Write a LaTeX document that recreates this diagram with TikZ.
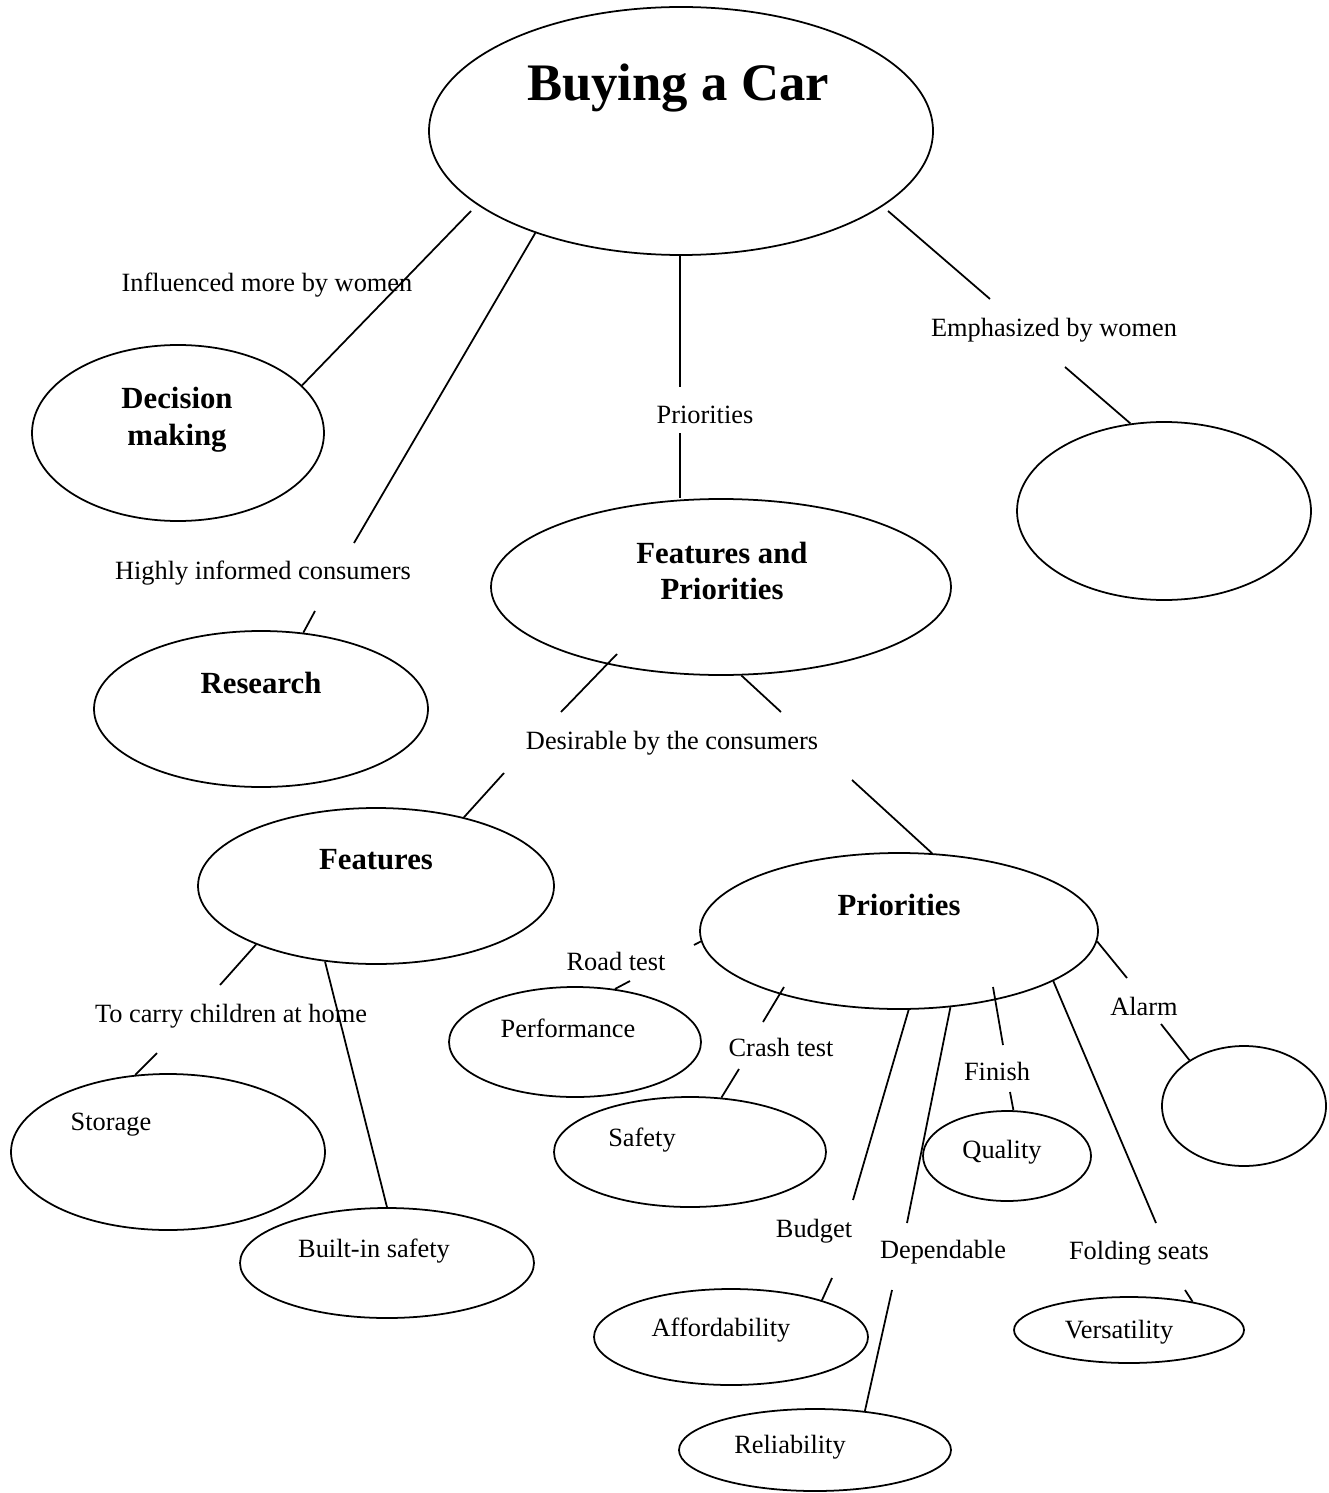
\documentclass[tikz,border=0pt]{standalone}
\usepackage{fontspec}
\setmainfont{Liberation Serif}
\usetikzlibrary{shapes.geometric}

\begin{document}
\begin{tikzpicture}[
    x=0.16mm, y=-0.16mm,
    bubble/.style={ellipse, draw, line width=0.8pt, inner sep=0pt},
    title/.style={font=\fontsize{24}{28}\selectfont\bfseries, inner sep=0pt},
    head/.style={font=\fontsize{14}{16.8}\selectfont\bfseries, align=center, inner sep=0pt},
    item/.style={font=\fontsize{12}{14}\selectfont, inner sep=0pt},
    link/.style={line width=0.8pt},
]
\useasboundingbox (0,0) rectangle (1328,1493);

% =============================================================================
% Main topic and first level
% =============================================================================
\node[bubble, minimum width=80.64mm, minimum height=39.68mm] (car) at (681,131) {};
\node[title] (car-t) at (678,88) {Buying a Car};

\node[bubble, minimum width=46.72mm, minimum height=28.16mm] (dec) at (178,433) {};
\node[head] (dec-t) at (177,420) {Decision\\making};

\node[bubble, minimum width=53.44mm, minimum height=24.96mm] (res) at (261,709) {};
\node[head] (res-t) at (261,683) {Research};

\node[bubble, minimum width=73.6mm, minimum height=28.16mm] (fp) at (721,587) {};
\node[head] (fp-t) at (722,571) {Features and\\Priorities};

\node[bubble, minimum width=47.04mm, minimum height=28.48mm] (emph) at (1164,511) {};

% Link labels
\node[item] (l-infl) at (267,285) {Influenced more by women};
\node[item] (l-info) at (263,573) {Highly informed consumers};
\node[item] (l-prio) at (705,415) {Priorities};
\node[item] (l-emph) at (1054,330) {Emphasized by women};
\node[item] (l-desi) at (672,743) {Desirable by the consumers};

% Free ends of the links
\coordinate (c1a) at (471,211);
\coordinate (c2a) at (354,543);
\coordinate (c2b) at (315,611);
\coordinate (c3a) at (680,387);
\coordinate (c3b) at (680,433);
\coordinate (c4a) at (888,211);
\coordinate (c4b) at (990,299);
\coordinate (c4c) at (1065,367);
\coordinate (c5a) at (617,654);
\coordinate (c5b) at (561,712);
\coordinate (c5c) at (781,712);
\coordinate (c6a) at (504,773);
\coordinate (c6b) at (852,780);

% Links
\draw[link] (c1a) -- (dec.21);
\draw[link] (car.215) -- (c2a);
\draw[link] (c2b) -- (res.61);
\draw[link] (c3a |- car.south) -- (c3a);
\draw[link] (c3b) -- (c3b |- fp.north);
\draw[link] (c4a) -- (c4b);
\draw[link] (c4c) -- (emph.111);
\draw[link] (c5a) -- (c5b);
\draw[link] (fp.283) -- (c5c);

% =============================================================================
% Features and Priorities
% =============================================================================
\node[bubble, minimum width=56.96mm, minimum height=24.96mm] (feat) at (376,886) {};
\node[head] (feat-t) at (376,860) {Features};

\node[bubble, minimum width=63.68mm, minimum height=24.96mm] (prio) at (899,931) {};
\node[head] (prio-t) at (899,905) {Priorities};

\draw[link] (c6a) -- (feat.38);
\draw[link] (c6b) -- (prio.67);

% Leaves
\node[bubble, minimum width=50.24mm, minimum height=24.96mm] (stor) at (168,1152) {};
\node[item] (stor-t) at (111,1125) {Storage};
\node[bubble, minimum width=47.04mm, minimum height=17.6mm] (built) at (387,1263) {};
\node[item] (built-t) at (374,1251) {Built-in safety};
\node[bubble, minimum width=40.32mm, minimum height=17.6mm] (perf) at (575,1042) {};
\node[item] (perf-t) at (568,1028) {Performance};
\node[bubble, minimum width=43.52mm, minimum height=17.6mm] (safe) at (690,1152) {};
\node[item] (safe-t) at (642,1140) {Safety};
\node[bubble, minimum width=26.88mm, minimum height=14.4mm] (qual) at (1007,1156) {};
\node[item] (qual-t) at (1002,1152) {Quality};
\node[bubble, minimum width=26.24mm, minimum height=19.2mm] (alarm) at (1244,1106) {};
\node[bubble, minimum width=43.84mm, minimum height=15.36mm] (afford) at (731,1337) {};
\node[item] (afford-t) at (721,1330) {Affordability};
\node[bubble, minimum width=36.8mm, minimum height=10.56mm] (vers) at (1129,1330) {};
\node[item] (vers-t) at (1119,1332) {Versatility};
\node[bubble, minimum width=43.52mm, minimum height=13.12mm] (rel) at (815,1450) {};
\node[item] (rel-t) at (790,1447) {Reliability};

% Link labels
\node[item] (l-carry) at (231,1016) {To carry children at home};
\node[item] (l-road) at (616,961) {Road test};
\node[item] (l-crash) at (781,1047) {Crash test};
\node[item] (l-budget) at (814,1231) {Budget};
\node[item] (l-dep) at (943,1252) {Dependable};
\node[item] (l-finish) at (997,1071) {Finish};
\node[item] (l-fold) at (1139,1253) {Folding seats};
\node[item] (l-alarm) at (1144,1006) {Alarm};

% Free ends of the links
\coordinate (c7a) at (220,985);
\coordinate (c7b) at (157,1053);
\coordinate (c9a) at (694,945);
\coordinate (c9b) at (630,981);
\coordinate (c10a) at (784,987);
\coordinate (c10b) at (763,1022);
\coordinate (c10c) at (739,1069);
\coordinate (c11a) at (853,1200);
\coordinate (c11b) at (832,1278);
\coordinate (c12a) at (907,1223);
\coordinate (c12b) at (892,1290);
\coordinate (c13a) at (993,987);
\coordinate (c13b) at (1003,1045);
\coordinate (c13c) at (1010,1092);
\coordinate (c14a) at (1156,1223);
\coordinate (c14b) at (1185,1290);
\coordinate (c15a) at (1127,978);
\coordinate (c15b) at (1161,1024);

% Links
\draw[link] (feat.206) -- (c7a);
\draw[link] (c7b) -- (stor.113);
\draw[link] (feat.236) -- (built.north);
\draw[link] (prio.183) -- (c9a);
\draw[link] (c9b) -- (perf.53);
\draw[link] (c10a) -- (c10b);
\draw[link] (c10c) -- (safe.60);
\draw[link] (prio.277) -- (c11a);
\draw[link] (c11b) -- (afford.22);
\draw[link] (prio.304) -- (c12a);
\draw[link] (c12b) -- (rel.38);
\draw[link] (c13a) -- (c13b);
\draw[link] (c13c) -- (qual.82);
\draw[link] (prio.342) -- (c14a);
\draw[link] (c14b) -- (vers.24);
\draw[link] (prio.357) -- (c15a);
\draw[link] (c15b) -- (alarm.140);

\end{tikzpicture}
\end{document}
